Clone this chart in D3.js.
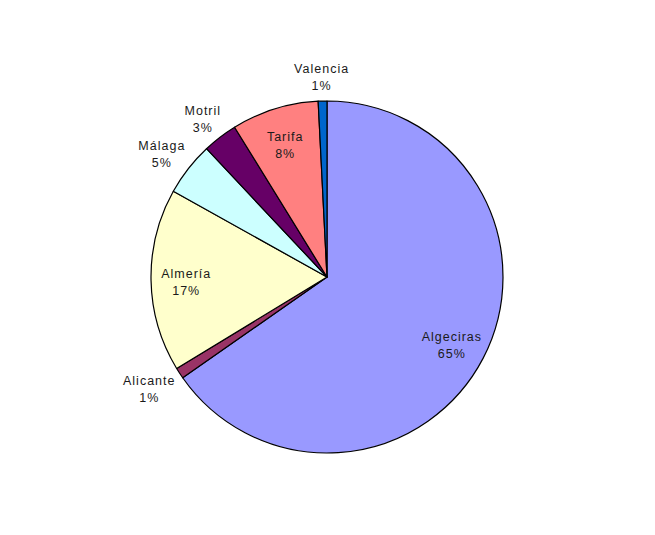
<!DOCTYPE html>
<html><head><meta charset="utf-8">
<script src="https://cdn.jsdelivr.net/npm/d3@7"></script>
<style>body{margin:0;background:#fff}svg{display:block}</style>
</head><body>
<svg id="c" width="655" height="535"></svg>
<script>
const categories = ["Algeciras","Alicante","Almería","Málaga","Motril","Tarifa","Valencia"];
const values = [65.3, 1.0, 16.8, 4.9, 3.2, 8.0, 0.8];
const colors = ["#9999FF","#993366","#FFFFCC","#CCFFFF","#660066","#FF8080","#0066CC"];
const insideLabel = [true,false,true,false,false,true,false];

const svg = d3.select("#c");
const cx = 327, cy = 277, r = 176;
const data = categories.map((c,i)=>({name:c,value:values[i],color:colors[i],inside:insideLabel[i]}));
const total = d3.sum(values);
const pie = d3.pie().value(d=>d.value).sort(null);
const arc = d3.arc().innerRadius(0).outerRadius(r);
const arcs = pie(data);
const g = svg.append("g").attr("transform",`translate(${cx},${cy})`);
g.selectAll("path").data(arcs).join("path")
  .attr("d",arc).attr("fill",d=>d.data.color)
  .attr("stroke","#000").attr("stroke-width",1.2).attr("stroke-linejoin","round");

const font = "'Liberation Sans', Arial, sans-serif";
arcs.forEach(a=>{
  const mid=(a.startAngle+a.endAngle)/2;
  const s=Math.sin(mid), c=Math.cos(mid);
  const pct=Math.round(a.data.value/total*100)+"%";
  const t=g.append("text").attr("font-family",font).attr("font-size",12.5)
    .attr("letter-spacing","1px").attr("fill","#1a1a1a").attr("text-anchor","middle");
  t.append("tspan").attr("x",0).attr("dy",0).text(a.data.name);
  t.append("tspan").attr("x",0).attr("dy",17).text(pct);
  const bb=t.node().getBBox();
  let px,py;
  if(a.data.inside){
    px=s*r*0.8; py=-c*r*0.8+3;
  } else {
    const rr=r+10;
    px=s*rr+s*bb.width/2; py=-c*rr-c*bb.height/2+2;
  }
  const ox=px-(bb.x+bb.width/2), oy=py-(bb.y+bb.height/2);
  t.attr("transform",`translate(${ox},${oy})`);
});
</script>
</body></html>
